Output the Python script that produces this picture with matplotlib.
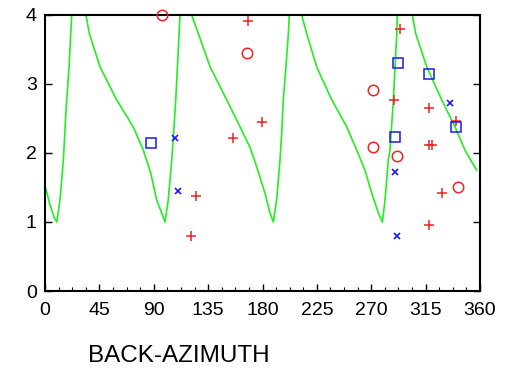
import numpy as np
import matplotlib
matplotlib.use("Agg")
import matplotlib.pyplot as plt
from matplotlib.ticker import MultipleLocator

plt.rcParams['font.family'] = ['Liberation Sans', 'DejaVu Sans']

# Theoretical curve (green), branches separated by NaN
curve_az = [0, 2, 4, 6, 8, 9.7, 12.4, 15.2, 17.4, 19.9, 21.3, 22.1, np.nan,
            33.9, 36.7, 45.5, 59.3, 73, 81.4, 87.5, 92.4, 96.6, 99.3,
            102, 104.9, 106.2, 108.2, 110.3, 111.7, np.nan,
            121.4, 126.9, 136.6, 150.4, 161.4, 169.7, 175.2, 182, 186.2, 189,
            191.7, 194.5, 195.9, 197.2, 199.4, 201.4, 202.2, np.nan,
            212.4, 216.6, 224.8, 237.3, 249.7, 258, 264.8, 270.4, 275.9, 279.2,
            281.4, 284.1, 285.5, 288.3, 289.7, 291.1, 291.6, np.nan,
            304, 306.8, 315.9, 328.3, 339.3, 347.6, 357.3]
curve_slow = [1.52, 1.40, 1.25, 1.15, 1.05, 1.0, 1.32, 1.90, 2.62, 3.25, 3.73, 4.0, np.nan,
              4.0, 3.73, 3.25, 2.77, 2.38, 2.04, 1.71, 1.32, 1.13, 1.0,
              1.32, 1.90, 2.23, 2.77, 3.49, 4.0, np.nan,
              4.0, 3.73, 3.25, 2.77, 2.38, 2.08, 1.80, 1.42, 1.13, 1.0,
              1.32, 1.90, 2.29, 2.77, 3.25, 3.73, 4.0, np.nan,
              4.0, 3.73, 3.25, 2.77, 2.38, 2.04, 1.75, 1.42, 1.13, 1.0,
              1.32, 1.90, 2.04, 2.77, 3.25, 3.73, 4.0, np.nan,
              4.0, 3.73, 3.25, 2.77, 2.38, 2.04, 1.75]

# Observations
circle_az = [96.6, 166.9, 271.7, 271.7, 291.6, 342]
circle_slow = [4.0, 3.45, 2.91, 2.08, 1.96, 1.50]

plus_az = [120.6, 125, 155.9, 168.3, 179.8, 289.1, 293.8, 318, 317.5, 320, 318, 328.8, 339.9]
plus_slow = [0.80, 1.38, 2.22, 3.91, 2.45, 2.77, 3.80, 2.65, 2.11, 2.12, 0.96, 1.42, 2.46]

square_az = [87.7, 289.7, 291.9, 317.8, 339.9]
square_slow = [2.15, 2.23, 3.30, 3.14, 2.38]

cross_az = [107.3, 109.8, 289.7, 291.6, 335.2]
cross_slow = [2.22, 1.45, 1.72, 0.80, 2.72]

xticks = [0, 45, 90, 135, 180, 225, 270, 315, 360]
yticks = [0, 1, 2, 3, 4]

fig = plt.figure(figsize=(5.08, 3.73), dpi=100)
ax = fig.add_axes([45 / 508, 82 / 373, 435 / 508, 276 / 373])

ax.plot(curve_az, curve_slow, color='#22ee22', linewidth=1.2, zorder=2)

ax.plot(circle_az, circle_slow, linestyle='none', marker='o', markersize=7.5,
        markerfacecolor='none', markeredgecolor='#ee2222', markeredgewidth=1.1,
        clip_on=False, zorder=3)
ax.plot(plus_az, plus_slow, linestyle='none', marker='+', markersize=7,
        color='#ee2222', markeredgewidth=1.1, clip_on=False, zorder=3)
ax.plot(square_az, square_slow, linestyle='none', marker='s', markersize=7.5,
        markerfacecolor='none', markeredgecolor='#1a1aee', markeredgewidth=1.1,
        clip_on=False, zorder=3)
ax.plot(cross_az, cross_slow, linestyle='none', marker='x', markersize=4,
        color='#1a1aee', markeredgewidth=1.2, clip_on=False, zorder=3)

ax.set_xlim(0, 360)
ax.set_ylim(0, 4)
ax.set_xticks(xticks)
ax.set_yticks(yticks)
ax.xaxis.set_minor_locator(MultipleLocator(11.25))
ax.tick_params(axis='both', which='major', direction='in', length=5, width=1,
               labelsize=14, right=True, top=False)
ax.tick_params(axis='x', which='major', pad=8)
ax.tick_params(axis='y', which='major', pad=6)
ax.tick_params(axis='x', which='minor', direction='in', length=3, width=0.8, top=False)
for s in ax.spines.values():
    s.set_linewidth(1.5)

fig.text(88 / 508, 1 - 356 / 373, 'BACK-AZIMUTH', fontsize=17.5, ha='left', va='center')

fig.savefig('out.png', dpi=100)
